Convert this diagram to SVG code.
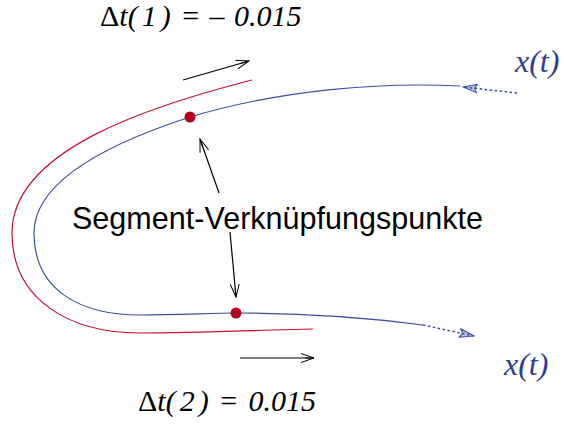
<svg xmlns="http://www.w3.org/2000/svg" width="564" height="424" viewBox="0 0 564 424">
<style>
.math{font-family:"Liberation Serif","Times New Roman",serif;font-style:italic;font-size:30px;fill:#000}
.up{font-style:normal}
.xt{font-family:"Liberation Serif","Times New Roman",serif;font-style:italic;font-size:32px;fill:#2e3d8f}
.lbl{font-family:"Liberation Sans",Arial,sans-serif;font-size:30.5px;fill:#000}
.blue{fill:none;stroke:#3a4f9e;stroke-width:1.2}
.bluedot{fill:none;stroke:#3a4f9e;stroke-width:1.5;stroke-dasharray:2.5 2.5}
.red{fill:none;stroke:#c8102e;stroke-width:1.2}
.blk{fill:none;stroke:#000;stroke-width:1.2}
.pt{fill:#b5001e}
</style>
<defs>
<marker id="ak" markerWidth="14" markerHeight="10" refX="13" refY="5" orient="auto" markerUnits="userSpaceOnUse">
<path d="M0,0.5 L13,5 L0,9.5 M13,5 L4,5" fill="none" stroke="#000" stroke-width="1"/>
</marker>
<marker id="ab" markerWidth="16" markerHeight="10" refX="15" refY="5" orient="auto" markerUnits="userSpaceOnUse">
<path d="M0,0.5 L15,5 L0,9.5 Q6,5 0,0.5 Z" fill="#3a4f9e" fill-opacity="0.35" stroke="#3a4f9e" stroke-width="1"/>
</marker>
</defs>
<g id="connectors">
<path class="red" d="M252,80 C150,106 12,150 12,233 C12,300 70,333 140,333 C200,333 260,330 313,329"/>
<path class="blue" d="M460,86 C380,82 280,90 190,117 C110,143 34,180 34,233 C34,290 80,315 140,315 C180,315 210,313 236,313 C300,313 370,318 423,325"/>
<path class="bluedot" d="M517,93 L463,87" marker-end="url(#ab)"/>
<path class="bluedot" d="M423,325 L474,336" marker-end="url(#ab)"/>
<path class="blk" d="M183,80 L249,61" marker-end="url(#ak)"/>
<path class="blk" d="M240,358 L314,358" marker-end="url(#ak)"/>
<path class="blk" d="M219,193 L200,139" marker-end="url(#ak)"/>
<path class="blk" d="M230,232 L236,297" marker-end="url(#ak)"/>
</g>
<g id="p1"><circle class="pt" cx="190" cy="117" r="5.5"/></g>
<g id="p2"><circle class="pt" cx="236" cy="313" r="5.5"/></g>
<g id="label"><text class="lbl" x="72" y="229" textLength="411">Segment-Verknüpfungspunkte</text></g>
<g id="dt1"><text class="math" x="100" y="26"><tspan class="up">Δ</tspan>t(<tspan dx="4">1</tspan><tspan dx="4">)</tspan> <tspan class="up" dx="4">=</tspan> <tspan class="up" dx="3">–</tspan> <tspan dx="2">0.015</tspan></text></g>
<g id="dt2"><text class="math" x="138" y="411"><tspan class="up">Δ</tspan>t(<tspan dx="4">2</tspan><tspan dx="4">)</tspan> <tspan class="up" dx="4">=</tspan> <tspan dx="4">0.015</tspan></text></g>
<g id="xt1"><text class="xt" x="515" y="72">x(t)</text></g>
<g id="xt2"><text class="xt" x="504" y="375">x(t)</text></g>
</svg>
